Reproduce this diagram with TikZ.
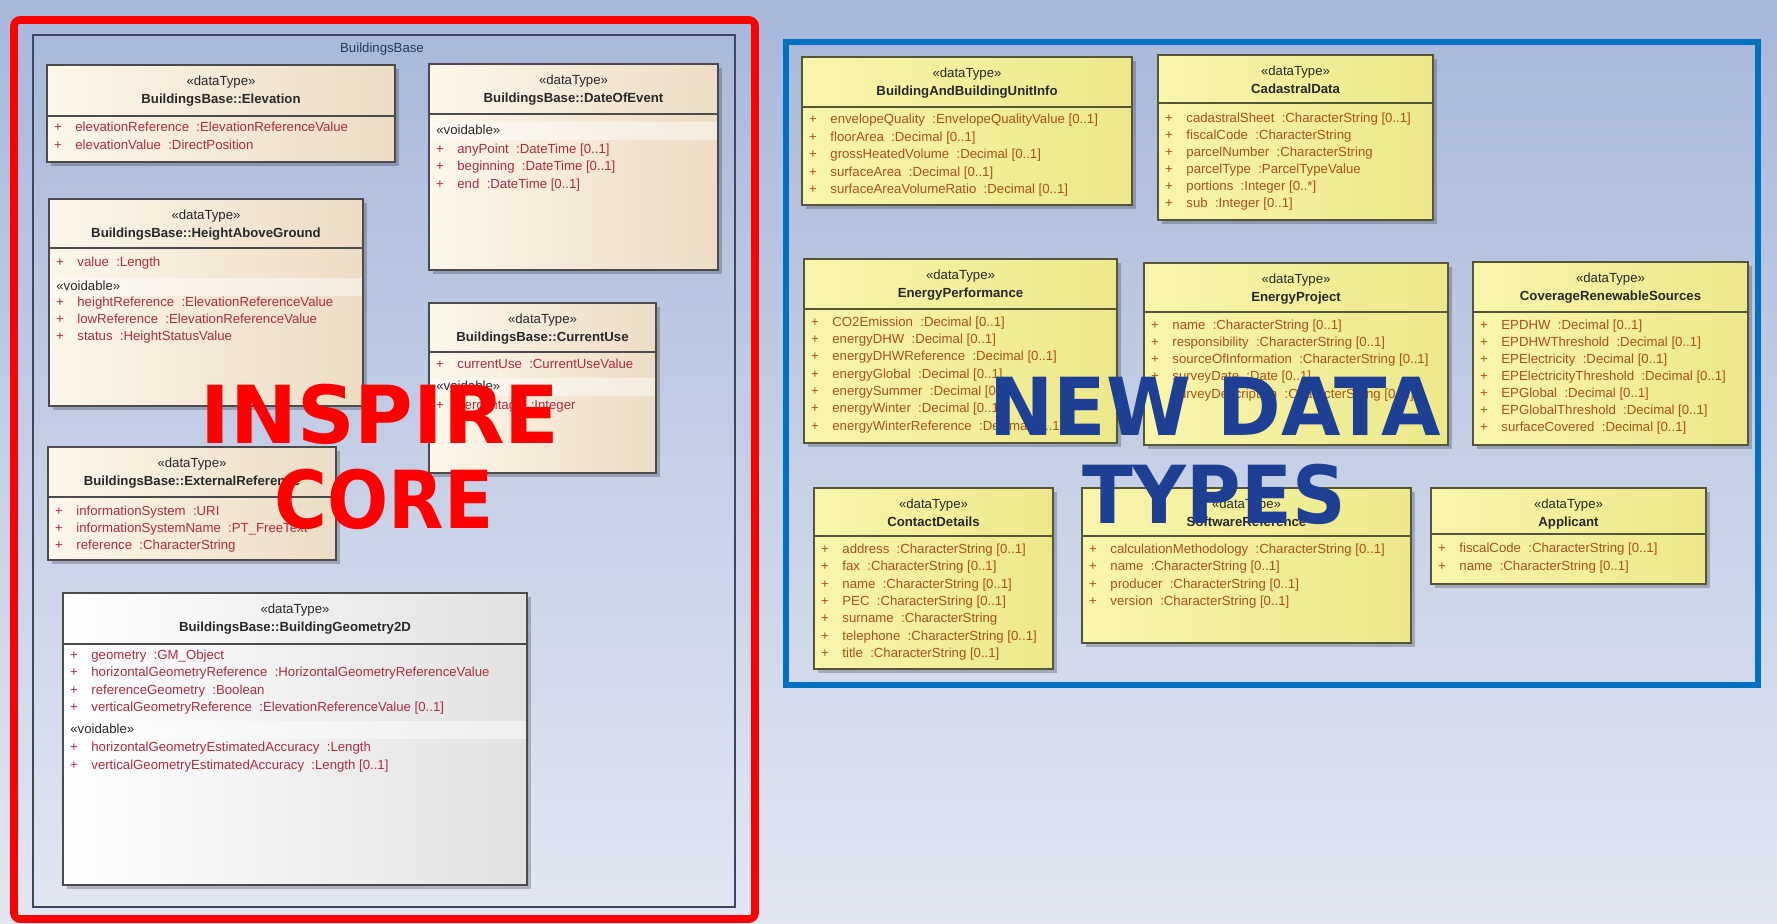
\documentclass[tikz,border=0pt]{standalone}
\usepackage{fontspec}
\setmainfont{Liberation Sans}
\newfontfamily\bigfont{DejaVu Sans}
\definecolor{bgtop}{RGB}{168,183,218}
\definecolor{bgbot}{RGB}{226,231,242}
\definecolor{creamL}{RGB}{253,247,235}
\definecolor{creamR}{RGB}{236,220,196}
\definecolor{yelL}{RGB}{249,245,172}
\definecolor{yelR}{RGB}{236,232,138}
\definecolor{whiteR}{RGB}{226,226,226}
\definecolor{attrred}{RGB}{172,45,65}
\definecolor{attrbrown}{RGB}{168,82,22}
\definecolor{hdrtxt}{RGB}{40,40,40}
\definecolor{boxgrey}{RGB}{75,75,75}
\definecolor{boxolive}{RGB}{85,85,55}
\definecolor{redframe}{RGB}{255,0,0}
\definecolor{blueframe}{RGB}{0,112,192}
\definecolor{bigblue}{RGB}{30,64,148}
\definecolor{pkgline}{RGB}{60,72,95}
\definecolor{pkgtxt}{RGB}{40,55,95}
\tikzset{
  x=0.5pt, y=-0.5pt,
  attrbase/.style={font=\fontsize{6.6}{7.5}\selectfont, inner sep=0pt, text height=4.9pt, text depth=1.4pt},
  stereo/.style={attrbase, text=hdrtxt},
  cname/.style={attrbase, font=\fontsize{6.6}{7.5}\selectfont\bfseries, text=hdrtxt},
  cream/.style={left color=creamL, right color=creamR},
  yellow/.style={left color=yelL, right color=yelR},
  whitebox/.style={left color=white, right color=whiteR},
  cline/.style={draw=boxgrey, line width=1pt},
  yline/.style={draw=boxolive, line width=1pt},
  ared/.style={text=attrred},
  abrown/.style={text=attrbrown},
  bigtxt/.style={font=\bigfont\bfseries\fontsize{40}{42}\selectfont, anchor=base, inner sep=0pt},
}
% #1 id, #2 x1, #3 y1, #4 x2, #5 y2, #6 separator y, #7 fill style, #8 line style, #9 name
\newcommand{\dtbox}[9]{%
  \fill[black,opacity=0.22] (#2+4,#3+4) rectangle (#4+4,#5+4);
  \path[#7] (#2,#3) rectangle (#4,#5);
  \draw[#8] (#2,#6) -- (#4,#6);
  \draw[#8] (#2,#3) rectangle (#4,#5);
  \node[stereo] (#1-st) at ({(#2+#4)/2},#3+17) {«dataType»};
  \node[cname] (#1-nm) at ({(#2+#4)/2},#3+35) {#9};
}
% #1 id, #2 x1, #3 y, #4 colour style, #5 text
\newcommand{\attr}[5]{%
  \node[attrbase,#4] (#1p) at (#2+11,#3) {+};
  \node[attrbase,#4,anchor=west] (#1) at (#2+28,#3) {#5};
}
% #1 id, #2 x1, #3 x2, #4 y
\newcommand{\vdbl}[4]{%
  \fill[white,opacity=0.45] (#2+1,#4-9) rectangle (#3-1,#4+9);
  \node[attrbase,text=hdrtxt,anchor=west] (#1) at (#2+7,#4) {«voidable»};
}
\begin{document}
\begin{tikzpicture}
\useasboundingbox (0,0) rectangle (1777,924);
\shade[top color=bgtop, bottom color=bgbot] (0,0) rectangle (1777,924);

% package frame
\draw[pkgline, line width=0.8pt] (33,35) rectangle (735,907);
\node[attrbase, text=pkgtxt] (pkg) at (382,49) {BuildingsBase};

% ---- INSPIRE core data types ----
\dtbox{elev}{47}{65}{395}{162}{116}{cream}{cline}{BuildingsBase::Elevation}
\attr{elev1}{47}{128}{ared}{elevationReference \ :ElevationReferenceValue}
\attr{elev2}{47}{146}{ared}{elevationValue \ :DirectPosition}

\dtbox{doe}{429}{64}{718}{270}{114}{cream}{cline}{BuildingsBase::DateOfEvent}
\vdbl{doev}{429}{718}{131}
\attr{doe1}{429}{150}{ared}{anyPoint \ :DateTime [0..1]}
\attr{doe2}{429}{167}{ared}{beginning \ :DateTime [0..1]}
\attr{doe3}{429}{185}{ared}{end \ :DateTime [0..1]}

\dtbox{hag}{49}{199}{363}{406}{248}{cream}{cline}{BuildingsBase::HeightAboveGround}
\attr{hag1}{49}{263}{ared}{value \ :Length}
\vdbl{hagv}{49}{363}{287}
\attr{hag2}{49}{303}{ared}{heightReference \ :ElevationReferenceValue}
\attr{hag3}{49}{320}{ared}{lowReference \ :ElevationReferenceValue}
\attr{hag4}{49}{337}{ared}{status \ :HeightStatusValue}

\dtbox{cu}{429}{303}{656}{473}{352}{cream}{cline}{BuildingsBase::CurrentUse}
\attr{cu1}{429}{365}{ared}{currentUse \ :CurrentUseValue}
\vdbl{cuv}{429}{656}{387}
\attr{cu2}{429}{406}{ared}{percentage \ :Integer}

\dtbox{er}{48}{447}{336}{560}{497}{cream}{cline}{BuildingsBase::ExternalReference}
\attr{er1}{48}{512}{ared}{informationSystem \ :URI}
\attr{er2}{48}{529}{ared}{informationSystemName \ :PT\_FreeText}
\attr{er3}{48}{546}{ared}{reference \ :CharacterString}

\dtbox{bg}{63}{593}{527}{885}{644}{whitebox}{cline}{BuildingsBase::BuildingGeometry2D}
\attr{bg1}{63}{656}{ared}{geometry \ :GM\_Object}
\attr{bg2}{63}{673}{ared}{horizontalGeometryReference \ :HorizontalGeometryReferenceValue}
\attr{bg3}{63}{691}{ared}{referenceGeometry \ :Boolean}
\attr{bg4}{63}{708}{ared}{verticalGeometryReference \ :ElevationReferenceValue [0..1]}
\vdbl{bgv}{63}{527}{730}
\attr{bg5}{63}{748}{ared}{horizontalGeometryEstimatedAccuracy \ :Length}
\attr{bg6}{63}{766}{ared}{verticalGeometryEstimatedAccuracy \ :Length [0..1]}

% ---- new data types ----
\dtbox{bbui}{802}{57}{1132}{205}{107}{yellow}{yline}{BuildingAndBuildingUnitInfo}
\attr{bbui1}{802}{120}{abrown}{envelopeQuality \ :EnvelopeQualityValue [0..1]}
\attr{bbui2}{802}{138}{abrown}{floorArea \ :Decimal [0..1]}
\attr{bbui3}{802}{155}{abrown}{grossHeatedVolume \ :Decimal [0..1]}
\attr{bbui4}{802}{173}{abrown}{surfaceArea \ :Decimal [0..1]}
\attr{bbui5}{802}{190}{abrown}{surfaceAreaVolumeRatio \ :Decimal [0..1]}

\dtbox{cad}{1158}{55}{1433}{220}{103}{yellow}{yline}{CadastralData}
\attr{cad1}{1158}{119}{abrown}{cadastralSheet \ :CharacterString [0..1]}
\attr{cad2}{1158}{136}{abrown}{fiscalCode \ :CharacterString}
\attr{cad3}{1158}{153}{abrown}{parcelNumber \ :CharacterString}
\attr{cad4}{1158}{170}{abrown}{parcelType \ :ParcelTypeValue}
\attr{cad5}{1158}{187}{abrown}{portions \ :Integer [0..*]}
\attr{cad6}{1158}{204}{abrown}{sub \ :Integer [0..1]}

\dtbox{ep}{804}{259}{1117}{443}{309}{yellow}{yline}{EnergyPerformance}
\attr{ep1}{804}{323}{abrown}{CO2Emission \ :Decimal [0..1]}
\attr{ep2}{804}{340}{abrown}{energyDHW \ :Decimal [0..1]}
\attr{ep3}{804}{357}{abrown}{energyDHWReference \ :Decimal [0..1]}
\attr{ep4}{804}{375}{abrown}{energyGlobal \ :Decimal [0..1]}
\attr{ep5}{804}{392}{abrown}{energySummer \ :Decimal [0..1]}
\attr{ep6}{804}{409}{abrown}{energyWinter \ :Decimal [0..1]}
\attr{ep7}{804}{427}{abrown}{energyWinterReference \ :Decimal [0..1]}

\dtbox{eproj}{1144}{263}{1448}{445}{312}{yellow}{yline}{EnergyProject}
\attr{eproj1}{1144}{326}{abrown}{name \ :CharacterString [0..1]}
\attr{eproj2}{1144}{343}{abrown}{responsibility \ :CharacterString [0..1]}
\attr{eproj3}{1144}{360}{abrown}{sourceOfInformation \ :CharacterString [0..1]}
\attr{eproj4}{1144}{377}{abrown}{surveyDate \ :Date [0..1]}
\attr{eproj5}{1144}{395}{abrown}{surveyDescription \ :CharacterString [0..1]}

\dtbox{crs}{1473}{262}{1748}{445}{312}{yellow}{yline}{CoverageRenewableSources}
\attr{crs1}{1473}{326}{abrown}{EPDHW \ :Decimal [0..1]}
\attr{crs2}{1473}{343}{abrown}{EPDHWThreshold \ :Decimal [0..1]}
\attr{crs3}{1473}{360}{abrown}{EPElectricity \ :Decimal [0..1]}
\attr{crs4}{1473}{377}{abrown}{EPElectricityThreshold \ :Decimal [0..1]}
\attr{crs5}{1473}{394}{abrown}{EPGlobal \ :Decimal [0..1]}
\attr{crs6}{1473}{411}{abrown}{EPGlobalThreshold \ :Decimal [0..1]}
\attr{crs7}{1473}{428}{abrown}{surfaceCovered \ :Decimal [0..1]}

\dtbox{cd}{814}{488}{1053}{669}{536}{yellow}{yline}{ContactDetails}
\attr{cd1}{814}{550}{abrown}{address \ :CharacterString [0..1]}
\attr{cd2}{814}{567}{abrown}{fax \ :CharacterString [0..1]}
\attr{cd3}{814}{585}{abrown}{name \ :CharacterString [0..1]}
\attr{cd4}{814}{602}{abrown}{PEC \ :CharacterString [0..1]}
\attr{cd5}{814}{619}{abrown}{surname \ :CharacterString}
\attr{cd6}{814}{637}{abrown}{telephone \ :CharacterString [0..1]}
\attr{cd7}{814}{654}{abrown}{title \ :CharacterString [0..1]}

\dtbox{sr}{1082}{488}{1411}{643}{536}{yellow}{yline}{SoftwareReference}
\attr{sr1}{1082}{550}{abrown}{calculationMethodology \ :CharacterString [0..1]}
\attr{sr2}{1082}{567}{abrown}{name \ :CharacterString [0..1]}
\attr{sr3}{1082}{585}{abrown}{producer \ :CharacterString [0..1]}
\attr{sr4}{1082}{602}{abrown}{version \ :CharacterString [0..1]}

\dtbox{app}{1431}{488}{1706}{584}{534}{yellow}{yline}{Applicant}
\attr{app1}{1431}{549}{abrown}{fiscalCode \ :CharacterString [0..1]}
\attr{app2}{1431}{567}{abrown}{name \ :CharacterString [0..1]}

% ---- highlight frames ----
\draw[redframe, line width=3.8pt, rounded corners=3pt] (14,20) rectangle (755,919);
\draw[blueframe, line width=3pt] (786,42) rectangle (1758,685);

% ---- overlay titles ----
\node[bigtxt, text=redframe] (inspire) at (380,444) {INSPIRE};
\node[bigtxt, text=redframe, xscale=0.9] (core) at (384,529) {CORE};
\node[bigtxt, text=bigblue, xscale=0.96] (newdata) at (1215,436) {NEW DATA};
\node[bigtxt, text=bigblue, xscale=0.93] (types) at (1214,524) {TYPES};
\end{tikzpicture}
\end{document}
